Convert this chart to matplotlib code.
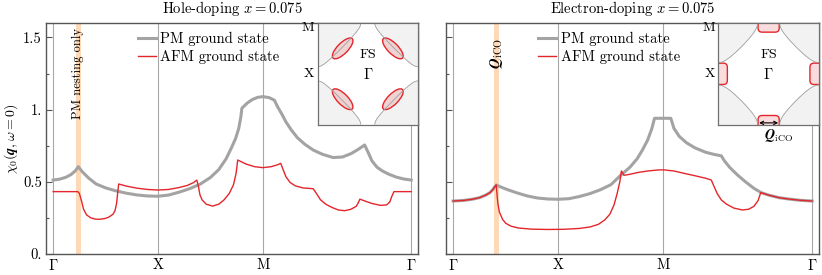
import numpy as np
import matplotlib
matplotlib.use("Agg")
import matplotlib.pyplot as plt
from matplotlib.patches import Ellipse, FancyBboxPatch

plt.rcParams.update({
    "font.family": "serif",
    "font.serif": ["cmr10"],
    "mathtext.fontset": "cm",
    "axes.unicode_minus": False,
    "font.size": 9,
})

# ---------------- data ----------------
path_ticks = [0.0, 1.0, 2.0, 2.0 + np.sqrt(2.0)]
path_labels = [r"$\Gamma$", "X", "M", r"$\Gamma$"]
ytick_vals = [0.0, 0.5, 1.0, 1.5]
ytick_labels = ["0.", "0.5", "1.", "1.5"]

# Hole doping, PM ground state
hole_pm_x = [0.00, 0.06, 0.12, 0.17, 0.21, 0.24, 0.28, 0.34, 0.41, 0.50, 0.60, 0.70, 0.80,
             0.90, 1.00, 1.10, 1.20, 1.30, 1.40, 1.50, 1.58, 1.65, 1.70, 1.74, 1.77, 1.79,
             1.80, 1.85, 1.90, 1.95, 2.00, 2.06, 2.11, 2.14, 2.18, 2.22, 2.27, 2.33, 2.40,
             2.48, 2.57, 2.67, 2.76, 2.84, 2.91, 2.97, 3.00, 3.04, 3.09, 3.14, 3.20, 3.27,
             3.34, 3.414]
hole_pm_y = [0.512, 0.518, 0.531, 0.550, 0.575, 0.605, 0.568, 0.525, 0.485, 0.458, 0.437,
             0.421, 0.409, 0.402, 0.400, 0.408, 0.428, 0.452, 0.483, 0.530, 0.585, 0.660,
             0.735, 0.800, 0.870, 0.950, 1.010, 1.045, 1.070, 1.085, 1.090, 1.083, 1.065,
             1.020, 0.970, 0.915, 0.860, 0.805, 0.760, 0.720, 0.690, 0.668, 0.672, 0.695,
             0.725, 0.755, 0.710, 0.645, 0.600, 0.575, 0.553, 0.533, 0.520, 0.512]

# Hole doping, AFM ground state
hole_afm_x = [0.00, 0.235, 0.25, 0.27, 0.29, 0.32, 0.36, 0.40, 0.44, 0.49, 0.53, 0.57, 0.59,
              0.605, 0.615, 0.625, 0.70, 0.80, 0.90, 1.00, 1.10, 1.20, 1.28, 1.34, 1.37,
              1.385, 1.40, 1.42, 1.46, 1.52, 1.58, 1.63, 1.68, 1.72, 1.745, 1.76, 1.84,
              1.92, 2.00, 2.08, 2.14, 2.17, 2.19, 2.22, 2.26, 2.31, 2.38, 2.48, 2.51, 2.55,
              2.60, 2.66, 2.72, 2.78, 2.84, 2.89, 2.91, 2.925, 2.98, 3.04, 3.12, 3.18, 3.21,
              3.23, 3.25, 3.414]
hole_afm_y = [0.432, 0.432, 0.420, 0.370, 0.310, 0.270, 0.250, 0.242, 0.240, 0.245, 0.255,
              0.275, 0.300, 0.350, 0.420, 0.485, 0.470, 0.456, 0.447, 0.443, 0.447, 0.460,
              0.475, 0.495, 0.512, 0.470, 0.410, 0.375, 0.345, 0.332, 0.345, 0.375, 0.420,
              0.480, 0.560, 0.651, 0.623, 0.605, 0.598, 0.605, 0.618, 0.628, 0.590, 0.535,
              0.495, 0.472, 0.458, 0.452, 0.420, 0.375, 0.345, 0.322, 0.305, 0.300, 0.310,
              0.330, 0.355, 0.380, 0.365, 0.350, 0.337, 0.340, 0.360, 0.400, 0.432, 0.432]

# Electron doping, PM ground state
elec_pm_x = [0.00, 0.10, 0.18, 0.25, 0.31, 0.35, 0.38, 0.395, 0.41, 0.45, 0.52, 0.60, 0.70,
             0.80, 0.90, 1.00, 1.10, 1.20, 1.30, 1.40, 1.50, 1.60, 1.68, 1.75, 1.80, 1.85,
             1.89, 1.915, 2.07, 2.10, 2.15, 2.22, 2.30, 2.40, 2.48, 2.55, 2.58, 2.63, 2.70,
             2.78, 2.86, 2.93, 3.00, 3.10, 3.20, 3.30, 3.414]
elec_pm_y = [0.367, 0.371, 0.379, 0.390, 0.408, 0.425, 0.448, 0.465, 0.478, 0.465, 0.445,
             0.425, 0.403, 0.388, 0.381, 0.379, 0.383, 0.398, 0.418, 0.445, 0.480, 0.550,
             0.600, 0.660, 0.720, 0.790, 0.870, 0.940, 0.940, 0.870, 0.815, 0.770, 0.735,
             0.705, 0.690, 0.680, 0.645, 0.600, 0.550, 0.500, 0.455, 0.425, 0.408, 0.390,
             0.380, 0.372, 0.367]

# Electron doping, AFM ground state
elec_afm_x = [0.00, 0.10, 0.18, 0.25, 0.31, 0.35, 0.38, 0.395, 0.41, 0.415, 0.425, 0.44,
              0.47, 0.50, 0.55, 0.62, 0.75, 0.90, 1.05, 1.20, 1.30, 1.38, 1.44, 1.49, 1.53,
              1.56, 1.585, 1.60, 1.625, 1.68, 1.76, 1.85, 1.95, 2.00, 2.10, 2.20, 2.30, 2.40,
              2.455, 2.48, 2.51, 2.55, 2.60, 2.67, 2.75, 2.81, 2.86, 2.90, 2.925, 3.00, 3.10,
              3.20, 3.30, 3.414]
elec_afm_y = [0.367, 0.371, 0.379, 0.390, 0.408, 0.425, 0.448, 0.465, 0.478, 0.430, 0.350,
              0.290, 0.240, 0.213, 0.193, 0.180, 0.172, 0.170, 0.171, 0.177, 0.187, 0.205,
              0.235, 0.275, 0.340, 0.420, 0.500, 0.575, 0.545, 0.552, 0.565, 0.575, 0.582,
              0.583, 0.575, 0.558, 0.542, 0.525, 0.512, 0.470, 0.420, 0.375, 0.345, 0.318,
              0.305, 0.310, 0.330, 0.370, 0.425, 0.408, 0.390, 0.380, 0.372, 0.367]

panels = [
    dict(title=r"Hole-doping $x = 0.075$", pm=(hole_pm_x, hole_pm_y),
         afm=(hole_afm_x, hole_afm_y), band=0.24, mu=0.19, kind="hole"),
    dict(title=r"Electron-doping $x = 0.075$", pm=(elec_pm_x, elec_pm_y),
         afm=(elec_afm_x, elec_afm_y), band=0.41, mu=0.46, kind="electron"),
]

W, H = 822, 275
fig = plt.figure(figsize=(W / 100, H / 100), dpi=100)
axes = [fig.add_axes([46 / W, 21 / H, 372 / W, 231 / H]),
        fig.add_axes([446 / W, 21 / H, 373 / W, 231 / H])]

GREY = "#a3a3a3"
RED = "#e3262b"
SPINE = "#555555"

for ax, p in zip(axes, panels):
    ax.axvspan(p["band"] - 0.022, p["band"] + 0.022, color="#fdd9b8", lw=0, zorder=0)
    for t in path_ticks:
        ax.axvline(t, color="#a8a8a8", lw=0.8, zorder=1)
    ax.plot(*p["pm"], color=GREY, lw=2.2, zorder=2, label="PM ground state")
    ax.plot(*p["afm"], color=RED, lw=1.0, zorder=3, label="AFM ground state")
    ax.set_xlim(-0.068, path_ticks[-1] + 0.065)
    ax.set_ylim(0, 1.6)
    ax.set_xticks(path_ticks, path_labels)
    ax.set_yticks(ytick_vals)
    ax.set_yticks([0.25, 0.75, 1.25], minor=True)
    ax.tick_params(axis="x", length=0, pad=3, labelsize=10.5)
    ax.tick_params(axis="y", which="major", direction="in", length=4, width=0.8,
                   color=SPINE, labelsize=10.5, pad=3)
    ax.tick_params(axis="y", which="minor", direction="in", length=2.5, width=0.8,
                   color=SPINE)
    for s in ax.spines.values():
        s.set_color(SPINE)
        s.set_linewidth(1.0)
    ax.set_title(p["title"], fontsize=10.5, pad=7)
    ax.legend(loc="upper left", bbox_to_anchor=(0.247, 0.962), frameon=False,
              handlelength=1.25, handletextpad=0.3, borderpad=0, borderaxespad=0,
              labelspacing=0.25, fontsize=10.5)

    # inset: Brillouin zone with Fermi surface
    ins = ax.inset_axes([0.73, 0.56, 0.27, 0.44])
    k = np.linspace(-1, 1, 401)
    KX, KY = np.meshgrid(k, k)
    E = -2 * (np.cos(np.pi * KX) + np.cos(np.pi * KY))
    ins.contourf(KX, KY, E, levels=[-5, p["mu"], 5], colors=["white", "#f2f2f2"])
    ins.contour(KX, KY, E, levels=[p["mu"]], colors="#a0a0a0", linewidths=0.6)
    ins.set_xlim(-1, 1)
    ins.set_ylim(-1, 1)
    ins.set_xticks([])
    ins.set_yticks([])
    for s in ins.spines.values():
        s.set_color("#707070")
        s.set_linewidth(0.9)
    if p["kind"] == "hole":
        for sx, sy in [(-1, 1), (1, 1), (-1, -1), (1, -1)]:
            ang = 45 if sx * sy < 0 else -45
            ins.add_patch(Ellipse((0.5 * sx, 0.5 * sy), 0.54, 0.21, angle=ang,
                                  fc="#f0d2d2", ec=RED, lw=1.0))
    else:
        d, hw = 0.18, 0.21
        boxes = [(-hw, 1 - d, 2 * hw, 2 * d), (-hw, -1 - d, 2 * hw, 2 * d),
                 (-1 - d, -hw, 2 * d, 2 * hw), (1 - d, -hw, 2 * d, 2 * hw)]
        for (x0, y0, w, h) in boxes:
            ins.add_patch(FancyBboxPatch((x0, y0), w, h,
                                         boxstyle="round,pad=0,rounding_size=0.08",
                                         fc="#fadcdc", ec=RED, lw=1.0))
        ins.annotate("", xy=(0.19, -0.965), xytext=(-0.19, -0.965),
                     arrowprops=dict(arrowstyle="<->", lw=0.8, color="black",
                                     shrinkA=0, shrinkB=0, mutation_scale=6))
        ins.text(0.2, -1.22, r"$\boldsymbol{Q}_{\rm iCO}$", ha="center", va="center",
                 fontsize=10)
    ins.text(-1.06, 1.02, "M", ha="right", va="top", fontsize=10)
    ins.text(-1.06, 0.0, "X", ha="right", va="center", fontsize=10)
    ins.text(0.0, 0.38, "FS", ha="center", va="center", fontsize=10)
    ins.text(0.0, -0.02, r"$\Gamma$", ha="center", va="center", fontsize=10.5)

axes[0].set_yticklabels(ytick_labels)
axes[1].set_yticklabels([])
axes[0].set_ylabel(r"$\chi_0(\boldsymbol{q},\omega=0)$", fontsize=10, labelpad=2)
axes[0].text(0.24, 1.25, "PM nesting only", rotation=90, ha="center", va="center",
             fontsize=9)
axes[1].text(0.415, 1.39, r"$\boldsymbol{Q}_{\rm iCO}$", rotation=90, ha="center",
             va="center", fontsize=10.5)

fig.savefig("out.png", dpi=100)
